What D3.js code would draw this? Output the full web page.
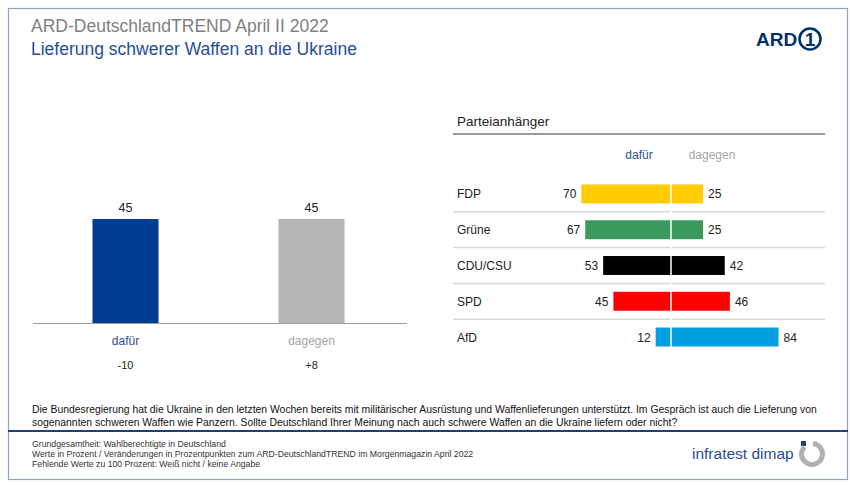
<!DOCTYPE html>
<html>
<head>
<meta charset="utf-8">
<script src="https://cdn.jsdelivr.net/npm/d3@7"></script>
<style>
  body { margin: 0; background: #fff; }
  svg text { font-family: Arial, "Liberation Sans", sans-serif; }
</style>
</head>
<body>
<div id="chart"></div>
<script>
// total result
const answers = ["dafür", "dagegen"];
const totals = [45, 45];
const changes = ["-10", "+8"];

// party supporters
const parties = ["FDP", "Grüne", "CDU/CSU", "SPD", "AfD"];
const partyFor = [70, 67, 53, 45, 12];
const partyAgainst = [25, 25, 42, 46, 84];

const partyColors = ["#ffcc00", "#3a9a5e", "#000000", "#ff0000", "#009fe0"];
const answerColors = ["#003d91", "#b5b5b5"];
const labelColors = ["#2b4f95", "#a6a6a6"];

const W = 850, H = 485;
const svg = d3.select("#chart").append("svg")
  .attr("width", W).attr("height", H);

// frame
svg.append("rect").attr("x", 8.5).attr("y", 8.5).attr("width", 839).attr("height", 471)
  .attr("fill", "none").attr("stroke", "#8fa3c6").attr("stroke-width", 1.2);
svg.append("line").attr("x1", 8).attr("x2", 848).attr("y1", 431).attr("y2", 431)
  .attr("stroke", "#1f3f7a").attr("stroke-width", 2);

// titles
svg.append("text").attr("x", 31).attr("y", 32).attr("font-size", 17.5)
  .attr("fill", "#808080").text("ARD-DeutschlandTREND April II 2022");
svg.append("text").attr("x", 31).attr("y", 55).attr("font-size", 17.5)
  .attr("fill", "#1f4e99").text("Lieferung schwerer Waffen an die Ukraine");

// ARD logo
const logo = svg.append("g");
logo.append("text").attr("x", 756).attr("y", 46).attr("font-size", 19)
  .attr("font-weight", "bold").attr("fill", "#00316e").text("ARD");
logo.append("circle").attr("cx", 810).attr("cy", 39).attr("r", 10.5)
  .attr("fill", "none").attr("stroke", "#00316e").attr("stroke-width", 2.6);
logo.append("text").attr("x", 810).attr("y", 46).attr("text-anchor", "middle")
  .attr("font-size", 19).attr("font-weight", "bold").attr("fill", "#00316e").text("1");

// left chart
const base = 323;
const x = d3.scaleBand(answers, [30, 407]).paddingInner(0.645).paddingOuter(0.336);
const y = d3.scaleLinear([0, 100], [base, base - 231]);

const gl = svg.append("g");
gl.selectAll("rect").data(answers).join("rect")
  .attr("x", d => x(d)).attr("width", x.bandwidth())
  .attr("y", (d, i) => y(totals[i])).attr("height", (d, i) => base - y(totals[i]))
  .attr("fill", (d, i) => answerColors[i]);
gl.selectAll(".val").data(answers).join("text").attr("class", "val")
  .attr("x", d => x(d) + x.bandwidth() / 2).attr("y", (d, i) => y(totals[i]) - 7)
  .attr("text-anchor", "middle").attr("font-size", 12.5).attr("fill", "#222")
  .text((d, i) => totals[i]);
gl.append("line").attr("x1", 33).attr("x2", 407)
  .attr("y1", base + 0.5).attr("y2", base + 0.5).attr("stroke", "#a0a0a0");
gl.selectAll(".lab").data(answers).join("text").attr("class", "lab")
  .attr("x", d => x(d) + x.bandwidth() / 2).attr("y", 345)
  .attr("text-anchor", "middle").attr("font-size", 12)
  .attr("fill", (d, i) => labelColors[i]).text(d => d);
gl.selectAll(".chg").data(answers).join("text").attr("class", "chg")
  .attr("x", d => x(d) + x.bandwidth() / 2).attr("y", 369)
  .attr("text-anchor", "middle").attr("font-size", 11).attr("fill", "#222")
  .text((d, i) => changes[i]);

// right chart
const gr = svg.append("g");
gr.append("text").attr("x", 457).attr("y", 126).attr("font-size", 13.5)
  .attr("fill", "#222").text("Parteianhänger");
gr.append("line").attr("x1", 453).attr("x2", 825).attr("y1", 134).attr("y2", 134)
  .attr("stroke", "#9a9a9a").attr("stroke-width", 2);

const cx = 671;
const xs = d3.scaleLinear([0, 100], [0, 128]);
const yr = d3.scaleBand(parties, [184.5, 346.5]).paddingInner(0.47).paddingOuter(0);

gr.append("text").attr("x", 639).attr("y", 159).attr("text-anchor", "middle")
  .attr("font-size", 12).attr("fill", labelColors[0]).text("dafür");
gr.append("text").attr("x", 712).attr("y", 159).attr("text-anchor", "middle")
  .attr("font-size", 12).attr("fill", labelColors[1]).text("dagegen");

const step = yr.step();
gr.selectAll(".sep").data(parties.slice(0, -1)).join("line").attr("class", "sep")
  .attr("x1", 453).attr("x2", 825)
  .attr("y1", d => yr(d) + yr.bandwidth() / 2 + step / 2)
  .attr("y2", d => yr(d) + yr.bandwidth() / 2 + step / 2)
  .attr("stroke", "#d9d9d9").attr("stroke-width", 1.5);

gr.selectAll(".pname").data(parties).join("text").attr("class", "pname")
  .attr("x", 457).attr("y", d => yr(d) + yr.bandwidth() / 2 + 4.5)
  .attr("font-size", 12).attr("fill", "#222").text(d => d);

gr.selectAll(".bfor").data(parties).join("rect").attr("class", "bfor")
  .attr("x", (d, i) => cx - xs(partyFor[i])).attr("width", (d, i) => xs(partyFor[i]))
  .attr("y", d => yr(d)).attr("height", yr.bandwidth())
  .attr("fill", (d, i) => partyColors[i]);
gr.selectAll(".bagainst").data(parties).join("rect").attr("class", "bagainst")
  .attr("x", cx).attr("width", (d, i) => xs(partyAgainst[i]))
  .attr("y", d => yr(d)).attr("height", yr.bandwidth())
  .attr("fill", (d, i) => partyColors[i]);
gr.append("line").attr("x1", cx).attr("x2", cx).attr("y1", 176).attr("y2", 355)
  .attr("stroke", "#fff").attr("stroke-width", 1.5);

gr.selectAll(".vfor").data(parties).join("text").attr("class", "vfor")
  .attr("x", (d, i) => cx - xs(partyFor[i]) - 5).attr("y", d => yr(d) + yr.bandwidth() / 2 + 4.5)
  .attr("text-anchor", "end").attr("font-size", 12).attr("fill", "#222")
  .text((d, i) => partyFor[i]);
gr.selectAll(".vagainst").data(parties).join("text").attr("class", "vagainst")
  .attr("x", (d, i) => cx + xs(partyAgainst[i]) + 5).attr("y", d => yr(d) + yr.bandwidth() / 2 + 4.5)
  .attr("font-size", 12).attr("fill", "#222")
  .text((d, i) => partyAgainst[i]);

// question
const q = svg.append("g").attr("font-size", 10.4).attr("fill", "#111");
q.append("text").attr("x", 32).attr("y", 413)
  .text("Die Bundesregierung hat die Ukraine in den letzten Wochen bereits mit militärischer Ausrüstung und Waffenlieferungen unterstützt. Im Gespräch ist auch die Lieferung von");
q.append("text").attr("x", 32).attr("y", 426)
  .text("sogenannten schweren Waffen wie Panzern. Sollte Deutschland Ihrer Meinung nach auch schwere Waffen an die Ukraine liefern oder nicht?");

// notes
const notes = [
  "Grundgesamtheit: Wahlberechtigte in Deutschland",
  "Werte in Prozent / Veränderungen in Prozentpunkten zum ARD-DeutschlandTREND im Morgenmagazin April 2022",
  "Fehlende Werte zu 100 Prozent: Weiß nicht / keine Angabe"
];
svg.append("g").selectAll("text").data(notes).join("text")
  .attr("x", 32).attr("y", (d, i) => 447 + i * 10)
  .attr("font-size", 8.7).attr("fill", "#333").text(d => d);

// infratest dimap logo
svg.append("text").attr("x", 692).attr("y", 459).attr("font-size", 15.5)
  .attr("fill", "#1f4e99").text("infratest dimap");
svg.append("rect").attr("x", 801).attr("y", 441).attr("width", 5).attr("height", 5)
  .attr("fill", "#1f3f7a");
const arc = d3.arc().innerRadius(8).outerRadius(13);
svg.append("path").attr("transform", "translate(812,454)")
  .attr("d", arc({ startAngle: 0.1, endAngle: Math.PI * 2 - 0.8 }))
  .attr("fill", "#b0b0b0");
</script>
</body>
</html>
